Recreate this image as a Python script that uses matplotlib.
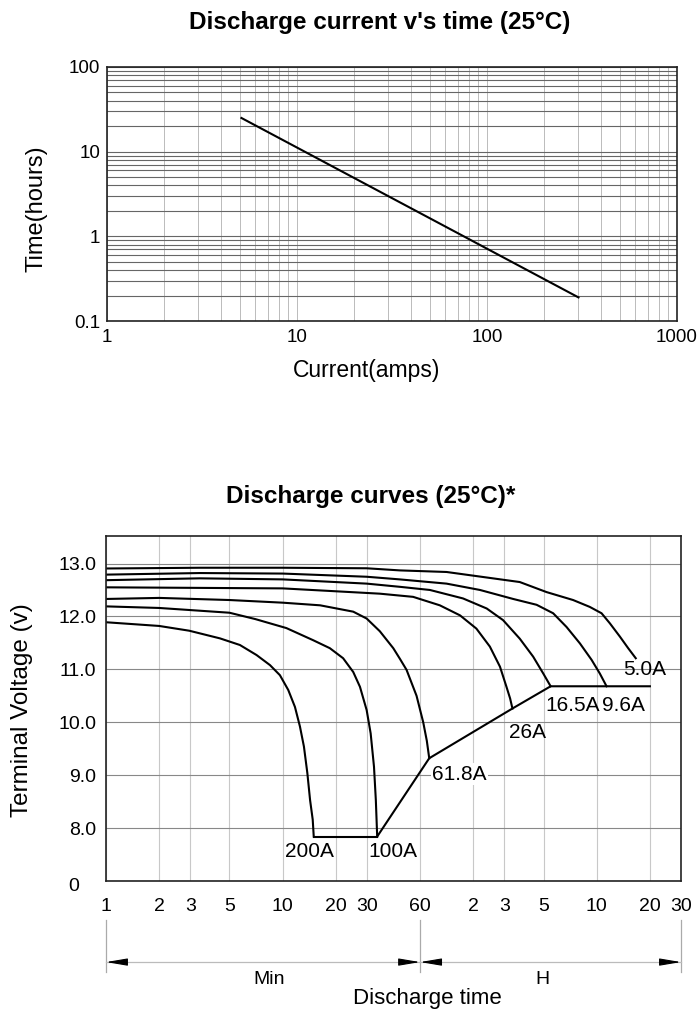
import matplotlib
matplotlib.use('Agg')
import matplotlib.pyplot as plt
from matplotlib.ticker import NullFormatter, NullLocator

plt.rcParams['font.family'] = ['Liberation Sans', 'DejaVu Sans']

# top chart: discharge current vs time
cur_amps = [5.1, 303]
cur_hours = [25, 0.19]

# bottom chart: discharge curves (time in minutes, volts)
c200_t = [1.0, 2.0, 2.96, 4.42, 5.73, 7.12, 8.48, 9.65, 10.76, 11.74, 12.53, 13.2, 13.8, 14.3, 14.8, 15.0]
c200_v = [11.89, 11.82, 11.73, 11.585, 11.46, 11.27, 11.08, 10.89, 10.61, 10.29, 9.92, 9.54, 9.04, 8.53, 8.16, 7.84]
c100_t = [1.0, 2.0, 5.0, 7.0, 10.5, 14.9, 18.5, 22.0, 25.1, 27.4, 29.9, 31.5, 32.9, 33.7, 34.3]
c100_v = [12.19, 12.16, 12.07, 11.95, 11.78, 11.55, 11.40, 11.21, 10.95, 10.67, 10.23, 9.79, 9.16, 8.53, 7.84]
c618_t = [1.0, 2.0, 5.0, 10, 16.3, 25.1, 29.9, 35.5, 42.3, 46.1, 50.3, 57.3, 62.5, 65.5, 67.6]
c618_v = [12.33, 12.35, 12.31, 12.26, 12.21, 12.09, 11.96, 11.72, 11.40, 11.20, 10.99, 10.50, 10.00, 9.65, 9.32]
c26_t = [1.0, 10, 35.5, 54.8, 77.6, 101, 125, 149, 170, 185, 194, 200]
c26_v = [12.55, 12.53, 12.43, 12.37, 12.21, 12.02, 11.77, 11.43, 11.05, 10.67, 10.45, 10.26]
c165_t = [1.0, 3.4, 10, 29.9, 46, 68.2, 105, 143, 177, 220, 262, 299, 329]
c165_v = [12.685, 12.72, 12.70, 12.62, 12.56, 12.50, 12.34, 12.15, 11.93, 11.58, 11.24, 10.92, 10.68]
c96_t = [1.0, 3.4, 10, 29.9, 46, 84.7, 131, 202, 274, 340, 405, 482, 561, 625, 682]
c96_v = [12.79, 12.82, 12.81, 12.75, 12.70, 12.62, 12.50, 12.33, 12.22, 12.06, 11.80, 11.49, 11.18, 10.92, 10.68]
c50_t = [1.0, 3.4, 10, 29.9, 46, 84.7, 220, 312, 441, 548, 639, 712, 811, 904, 998]
c50_v = [12.906, 12.92, 12.92, 12.91, 12.87, 12.84, 12.65, 12.46, 12.31, 12.18, 12.06, 11.87, 11.62, 11.40, 11.21]

# end-voltage lines
end_t = [15.0, 34.3]
end_v = [7.84, 7.84]
cut_t = [34.3, 67.6, 200, 329, 1200]
cut_v = [7.84, 9.32, 10.26, 10.68, 10.68]

labels = ['200A', '100A', '61.8A', '26A', '16.5A', '9.6A', '5.0A']
label_t = [10.3, 30.4, 70.2, 191, 309, 640, 844]
label_v = [7.55, 7.55, 9.02, 9.81, 10.31, 10.31, 10.99]

xt = [1, 2, 3, 5, 10, 20, 30, 60, 120, 180, 300, 600, 1200, 1800]
xt_lab = ['1', '2', '3', '5', '10', '20', '30', '60', '2', '3', '5', '10', '20', '30']
yt = [7, 8, 9, 10, 11, 12, 13]
yt_lab = ['', '8.0', '9.0', '10.0', '11.0', '12.0', '13.0']

fig = plt.figure(figsize=(6.97, 10.15), dpi=100)

# ---- top chart
ax1 = fig.add_axes([107/697, 1-321/1015, 570/697, 254/1015])
ax1.plot(cur_amps, cur_hours, color='black', lw=1.5)
ax1.set_xscale('log')
ax1.set_yscale('log')
ax1.set_xlim(1, 1000)
ax1.set_ylim(0.1, 100)
ax1.set_xticks([1, 10, 100, 1000], ['1', '10', '100', '1000'])
ax1.set_yticks([0.1, 1, 10, 100], ['0.1', '1', '10', '100'])
ax1.xaxis.set_minor_formatter(NullFormatter())
ax1.yaxis.set_minor_formatter(NullFormatter())
ax1.grid(which='both', axis='y', color='#666666', lw=0.8)
ax1.grid(which='both', axis='x', color='#bbbbbb', lw=0.7)
ax1.tick_params(which='both', length=0, labelsize=13.5)
ax1.tick_params(axis='x', pad=6)
ax1.tick_params(axis='y', pad=5)
for s in ax1.spines.values():
    s.set_color('#222222')
    s.set_linewidth(1.2)
ax1.set_ylabel('Time(hours)', fontsize=17)
ax1.yaxis.set_label_coords(-0.105, 0.443)
ax1.set_xlabel('Current(amps)', fontsize=16.5)
ax1.xaxis.set_label_coords(0.456, -0.15)
fig.text(380/697, 1-22/1015, "Discharge current v's time (25°C)",
         ha='center', va='center', fontsize=17.5, fontweight='bold')

# ---- bottom chart
ax2 = fig.add_axes([106/697, 1-881/1015, 575/697, 345/1015])
for t, v in [(c200_t, c200_v), (c100_t, c100_v), (c618_t, c618_v), (c26_t, c26_v),
             (c165_t, c165_v), (c96_t, c96_v), (c50_t, c50_v)]:
    ax2.plot(t, v, color='black', lw=1.5, solid_joinstyle='round')
ax2.plot(end_t, end_v, color='black', lw=1.5)
ax2.plot(cut_t, cut_v, color='black', lw=1.5)
for lab, t, v in zip(labels, label_t, label_v):
    bb = None
    if lab == '61.8A':
        bb = dict(facecolor='white', edgecolor='none', pad=1)
    ax2.text(t, v, lab, ha='left', va='center', fontsize=15, bbox=bb)

ax2.set_xscale('log')
ax2.set_xlim(1, 1800)
ax2.set_ylim(7, 13.52)
ax2.set_xticks(xt, xt_lab)
ax2.xaxis.set_minor_locator(NullLocator())
ax2.set_yticks(yt, yt_lab)
ax2.grid(axis='y', color='#888888', lw=0.8)
ax2.grid(axis='x', color='#c8c8c8', lw=0.8)
ax2.set_axisbelow(True)
ax2.tick_params(length=0, labelsize=14)
ax2.tick_params(axis='x', pad=12)
ax2.tick_params(axis='y', pad=7)
for s in ax2.spines.values():
    s.set_color('#222222')
    s.set_linewidth(1.2)
ax2.text(-0.057, -0.0145, '0', transform=ax2.transAxes, ha='center', va='center', fontsize=14)
ax2.set_ylabel('Terminal Voltage (v)', fontsize=17.5)
ax2.yaxis.set_label_coords(-0.127, 0.496)
fig.text(371/697, 1-497/1015, 'Discharge curves (25°C)*',
         ha='center', va='center', fontsize=17.5, fontweight='bold')

# time-range arrows below the axis
tr = ax2.get_xaxis_transform()
for x in [1, 60, 1800]:
    ax2.plot([x, x], [-0.113, -0.264], transform=tr, clip_on=False, color='#aaaaaa', lw=0.9)
for a, b in [(1, 60), (60, 1800)]:
    ax2.plot([a, b], [-0.235, -0.235], transform=tr, clip_on=False, color='#bbbbbb', lw=0.9)
ap = dict(arrowstyle='-|>,head_length=1.3,head_width=0.22', fc='black', ec='black',
          shrinkA=0, shrinkB=0, mutation_scale=10, lw=0.8)
for x, dx in [(1, 14), (60, -14), (60, 14), (1800, -14)]:
    ax2.annotate('', xy=(x, -0.235), xycoords=tr, xytext=(dx, 0),
                 textcoords='offset points', arrowprops=ap, annotation_clip=False)
ax2.text(8.4, -0.286, 'Min', transform=tr, ha='center', va='center', fontsize=14)
ax2.text(297, -0.286, 'H', transform=tr, ha='center', va='center', fontsize=14)
ax2.text(66, -0.342, 'Discharge time', transform=tr, ha='center', va='center', fontsize=16)

fig.savefig('out.png', dpi=100, facecolor='white')
